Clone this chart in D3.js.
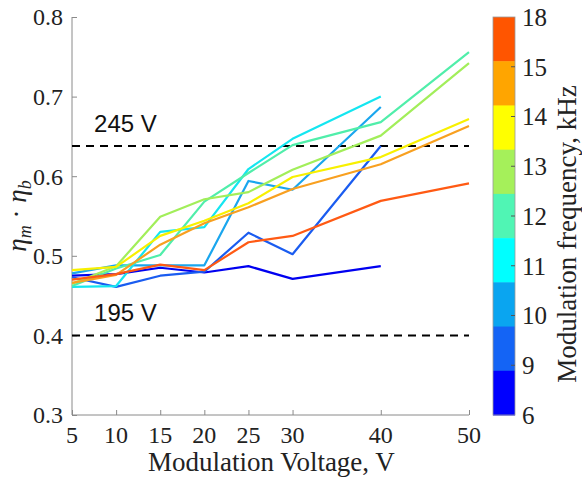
<!doctype html>
<html>
<head>
<meta charset="utf-8">
<script src="https://cdn.jsdelivr.net/npm/d3@7"></script>
<style>
  body { margin: 0; background: #fff; }
  svg { display: block; }
  .serif { font-family: "Liberation Serif", Tinos, "Times New Roman", "DejaVu Serif", serif; }
  .sans { font-family: "Liberation Sans", Arial, Helvetica, sans-serif; }
</style>
</head>
<body>
<script>
// modulation voltage (V) on x
const voltages = [5, 10, 15, 20, 25, 30, 40, 50];

// eta_m * eta_b per modulation frequency (kHz)
const eff6  = [0.475, 0.477, 0.485, 0.479, 0.487, 0.471, 0.487];
const eff9  = [0.473, 0.461, 0.475, 0.480, 0.529, 0.502, 0.638];
const eff10 = [0.478, 0.488, 0.488, 0.488, 0.594, 0.583, 0.687];
const eff11 = [0.461, 0.462, 0.530, 0.536, 0.609, 0.647, 0.700];
const eff12 = [0.462, 0.484, 0.501, 0.568, 0.604, 0.639, 0.668, 0.756];
const eff13 = [0.465, 0.487, 0.549, 0.571, 0.580, 0.608, 0.651, 0.742];
const eff14 = [0.482, 0.486, 0.525, 0.544, 0.566, 0.599, 0.624, 0.672];
const eff15 = [0.466, 0.476, 0.514, 0.541, 0.561, 0.584, 0.615, 0.663];
const eff18 = [0.470, 0.477, 0.489, 0.482, 0.517, 0.525, 0.569, 0.591];

const freqs = [6, 9, 10, 11, 12, 13, 14, 15, 18];
const lineColors = ["#0000f0", "#1a5cf0", "#1aa6ee", "#14e6f0", "#50eeaa", "#a2ee5a", "#f8f000", "#f8a020", "#ff5a14"];

// reference supply voltages (dashed)
const refLabels = ["245 V", "195 V"];
const refValues = [0.638, 0.40];

// colorbar
const cbTicks = ["18", "15", "14", "13", "12", "11", "10", "9", "6"];
const cbColors = ["#ff5500", "#ffa500", "#ffff00", "#a5f05a", "#50f5b4", "#00ffff", "#0aa5f0", "#1464f5", "#0000ff"];

const yTicks = [0.3, 0.4, 0.5, 0.6, 0.7, 0.8];

const width = 582, height = 483;
const margin = {top: 17, left: 72, bottom: 68, right: 113};

const x = d3.scaleLinear().domain([5, 50]).range([margin.left, width - margin.right]);
const y = d3.scaleLinear().domain([0.3, 0.8]).range([height - margin.bottom, margin.top]);

const series = freqs.map((f, i) => ({
  f, color: lineColors[i],
  values: [eff6, eff9, eff10, eff11, eff12, eff13, eff14, eff15, eff18][i]
}));

const svg = d3.select("body").append("svg")
    .attr("width", width)
    .attr("height", height)
    .attr("class", "serif");

// axes
const axisColor = "#8a8a8a";

svg.append("g")
    .attr("transform", `translate(0,${y(0.3)})`)
    .call(d3.axisTop(x).tickValues(voltages).tickSize(5).tickFormat(""))
    .call(g => g.select(".domain").attr("stroke", axisColor).attr("d", `M${x(5)},0H${x(50)}`))
    .call(g => g.selectAll(".tick line").attr("stroke", axisColor));

svg.append("g")
    .selectAll("text")
    .data(voltages)
    .join("text")
      .attr("x", d => x(d))
      .attr("y", y(0.3) + 28)
      .attr("text-anchor", "middle")
      .attr("font-size", 24)
      .attr("fill", "#222")
      .text(d => d);

svg.append("g")
    .attr("transform", `translate(${x(5)},0)`)
    .call(d3.axisRight(y).tickValues(yTicks).tickSize(5).tickFormat(""))
    .call(g => g.select(".domain").attr("stroke", axisColor).attr("d", `M0,${y(0.8)}V${y(0.3)}`))
    .call(g => g.selectAll(".tick line").attr("stroke", axisColor));

svg.append("g")
    .selectAll("text")
    .data(yTicks)
    .join("text")
      .attr("x", x(5) - 9)
      .attr("y", d => y(d))
      .attr("dy", "0.35em")
      .attr("text-anchor", "end")
      .attr("font-size", 24)
      .attr("fill", "#222")
      .text(d => d3.format(".1f")(d));

// axis titles
svg.append("text")
    .attr("x", (x(5) + x(50)) / 2 + 1)
    .attr("y", height - 12)
    .attr("text-anchor", "middle")
    .attr("font-size", 27)
    .attr("fill", "#222")
    .text("Modulation Voltage, V");

const yl = svg.append("text")
    .attr("transform", `translate(26,${(y(0.3) + y(0.8)) / 2}) rotate(-90)`)
    .attr("text-anchor", "middle")
    .attr("font-size", 27)
    .attr("font-style", "italic")
    .attr("fill", "#222");
yl.append("tspan").text("η");
yl.append("tspan").attr("font-size", 18).attr("dy", 5).text("m");
yl.append("tspan").attr("dy", -5).attr("font-style", "normal").text(" · ");
yl.append("tspan").text("η");
yl.append("tspan").attr("font-size", 18).attr("dy", 5).text("b");

// dashed reference lines
svg.append("g")
    .selectAll("line")
    .data(refValues)
    .join("line")
      .attr("x1", x(5))
      .attr("x2", x(50))
      .attr("y1", d => y(d))
      .attr("y2", d => y(d))
      .attr("stroke", "#000")
      .attr("stroke-width", 2)
      .attr("stroke-dasharray", "8,6");

svg.append("g")
    .attr("class", "sans")
    .selectAll("text")
    .data(refValues)
    .join("text")
      .attr("x", x(7.5))
      .attr("y", d => y(d) - 14)
      .attr("font-size", 24)
      .attr("fill", "#111")
      .text((d, i) => refLabels[i]);

// data lines
const line = d3.line()
    .x((d, i) => x(voltages[i]))
    .y(d => y(d));

svg.append("g")
    .attr("fill", "none")
    .attr("stroke-width", 2.2)
    .attr("stroke-linejoin", "round")
  .selectAll("path")
  .data(series)
  .join("path")
    .attr("stroke", d => d.color)
    .attr("d", d => line(d.values));

// colorbar
const cbX = 493, cbW = 22;
const cbBand = d3.scaleBand().domain(d3.range(cbColors.length)).range([y(0.8), y(0.3)]);
const cbTick = d3.scalePoint().domain(cbTicks).range([y(0.8), y(0.3)]);

svg.append("g")
  .selectAll("rect")
  .data(cbColors)
  .join("rect")
    .attr("x", cbX)
    .attr("y", (d, i) => cbBand(i))
    .attr("width", cbW)
    .attr("height", cbBand.bandwidth() + 0.5)
    .attr("fill", d => d);

svg.append("rect")
    .attr("x", cbX)
    .attr("y", y(0.8))
    .attr("width", cbW)
    .attr("height", y(0.3) - y(0.8))
    .attr("fill", "none")
    .attr("stroke", "#999")
    .attr("stroke-width", 0.8);

svg.append("g")
  .selectAll("line")
  .data(cbTicks.slice(1, -1))
  .join("line")
    .attr("x1", cbX + cbW - 4)
    .attr("x2", cbX + cbW)
    .attr("y1", d => cbTick(d))
    .attr("y2", d => cbTick(d))
    .attr("stroke", "#555");

svg.append("g")
  .selectAll("text")
  .data(cbTicks)
  .join("text")
    .attr("x", cbX + cbW + 7)
    .attr("y", d => cbTick(d))
    .attr("dy", "0.35em")
    .attr("font-size", 25)
    .attr("fill", "#222")
    .text(d => d);

svg.append("text")
    .attr("transform", `translate(567,${(y(0.3) + y(0.8)) / 2 + 18}) rotate(-90)`)
    .attr("text-anchor", "middle")
    .attr("dy", "0.35em")
    .attr("font-size", 27)
    .attr("fill", "#222")
    .text("Modulation frequency, kHz");
</script>
</body>
</html>
